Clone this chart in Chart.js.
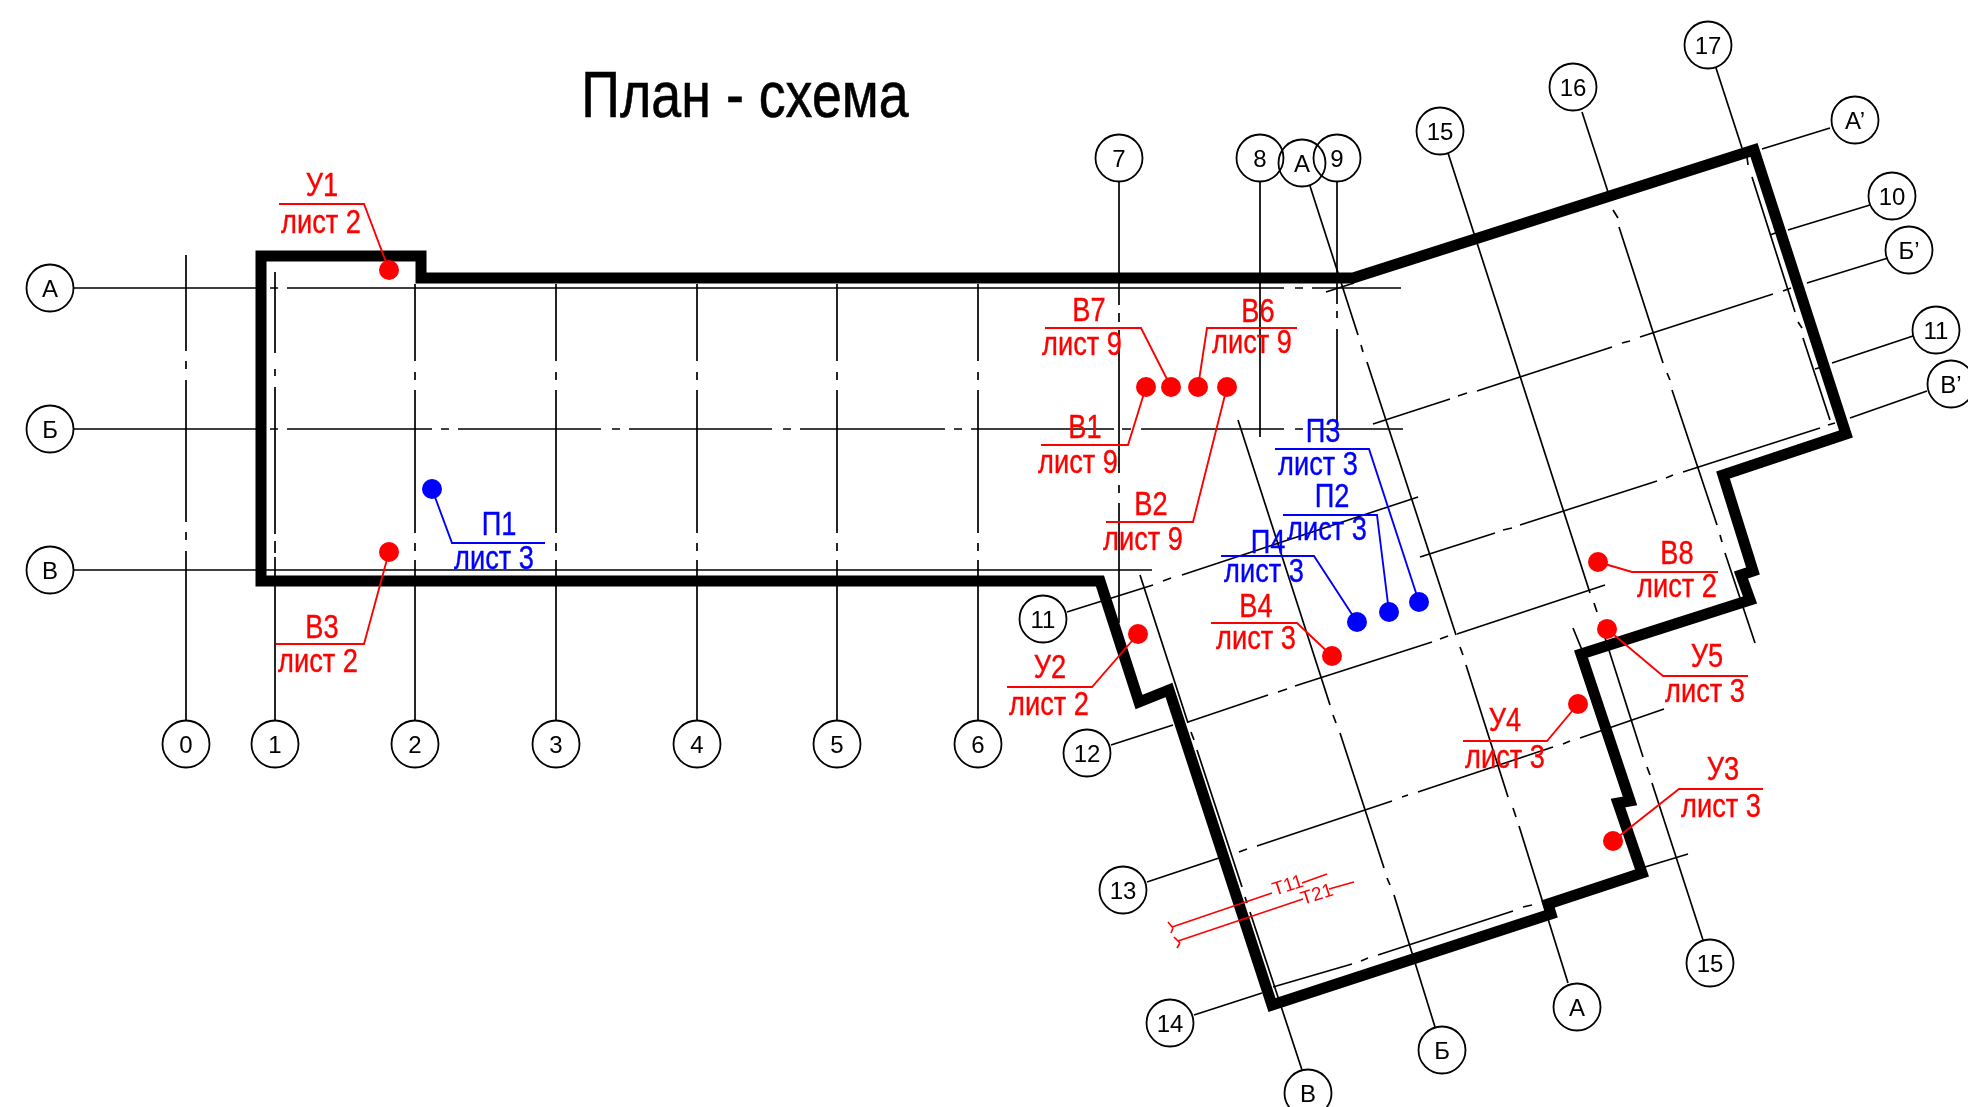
<!DOCTYPE html>
<html>
<head>
<meta charset="utf-8">
<title>План - схема</title>
<script src="https://cdn.jsdelivr.net/npm/chart.js@4"></script>
<style>
  html, body { margin: 0; padding: 0; background: #fff; overflow: hidden; }
  canvas { display: block; }
</style>
</head>
<body>
<canvas id="plan" width="1968" height="1107"></canvas>
<script>
const titleText = "План - схема";

// Outer wall, drawing coordinates
const wallX = [261, 421, 421, 1353, 1754, 1846, 1723, 1753, 1741, 1750, 1581, 1630, 1618, 1642, 1548, 1551, 1272, 1169, 1139, 1100, 261, 261];
const wallY = [256, 256, 278, 278, 150, 434, 475, 571, 575, 600, 654, 801, 803, 873, 904, 914, 1005, 690, 702, 581, 581, 256];

// Grid axes: each entry is one drawn stroke [x1, y1, x2, y2]
const rowA = [[73, 288, 258, 288], [270, 288, 278, 288], [287, 288, 1284, 288], [1295, 288, 1303, 288], [1312, 288, 1401, 288]];
const rowB = [[73, 429, 258, 429], [270, 429, 278, 429], [287, 429, 432, 429], [441, 429, 449, 429], [458, 429, 601, 429], [612, 429, 620, 429], [629, 429, 772, 429], [783, 429, 791, 429], [800, 429, 945, 429], [954, 429, 962, 429], [971, 429, 1114, 429], [1122, 429, 1131, 429], [1141, 429, 1284, 429], [1295, 429, 1303, 429], [1312, 429, 1403, 429]];
const rowV = [[73, 570, 1152, 570]];

const col0 = [[186, 255, 186, 351], [186, 361, 186, 369], [186, 380, 186, 522], [186, 532, 186, 540], [186, 551, 186, 721]];
const col1 = [[275, 272, 275, 353], [275, 369, 275, 376], [275, 387, 275, 534], [275, 541, 275, 553], [275, 557, 275, 721]];
const col2 = [[415, 284, 415, 361], [415, 372, 415, 380], [415, 390, 415, 533], [415, 543, 415, 551], [415, 560, 415, 721]];
const col3 = [[556, 284, 556, 361], [556, 372, 556, 380], [556, 390, 556, 533], [556, 543, 556, 551], [556, 560, 556, 721]];
const col4 = [[697, 284, 697, 361], [697, 372, 697, 380], [697, 390, 697, 533], [697, 543, 697, 551], [697, 560, 697, 721]];
const col5 = [[837, 284, 837, 361], [837, 372, 837, 380], [837, 390, 837, 533], [837, 543, 837, 551], [837, 560, 837, 721]];
const col6 = [[978, 284, 978, 361], [978, 372, 978, 380], [978, 390, 978, 533], [978, 543, 978, 551], [978, 560, 978, 721]];
const col7 = [[1119, 182, 1119, 305], [1119, 313, 1119, 322], [1119, 330, 1119, 473], [1119, 485, 1119, 493], [1119, 503, 1119, 623]];
const col8 = [[1260, 182, 1260, 437]];
const col9 = [[1337, 182, 1337, 304], [1337, 311, 1337, 318], [1337, 329, 1337, 429]];

// Slanted part of the building
const axisA2 = [[1310, 186, 1358, 335], [1361, 345, 1363, 352], [1367, 362, 1456, 635], [1460, 647, 1463, 655], [1466, 665, 1508, 797], [1513, 808, 1516, 817], [1519, 826, 1568, 983]];
const axisB2 = [[1238, 420, 1330, 705], [1333, 715, 1336, 723], [1340, 733, 1384, 868], [1387, 878, 1390, 885], [1394, 895, 1435, 1027]];
const axisV2 = [[1140, 575, 1188, 723], [1191, 732, 1194, 740], [1197, 750, 1242, 887], [1245, 897, 1247, 903], [1250, 912, 1302, 1070]];
const axis15 = [[1448, 153, 1590, 593], [1594, 603, 1597, 612], [1600, 622, 1643, 757], [1647, 767, 1650, 775], [1652, 783, 1703, 940]];
const axis16 = [[1582, 112, 1608, 192], [1613, 210, 1618, 218], [1619, 227, 1663, 363], [1667, 373, 1670, 380], [1672, 390, 1717, 525], [1720, 535, 1722, 542], [1725, 553, 1755, 643]];
const axis17 = [[1716, 68, 1742, 148], [1747, 157, 1748, 165], [1752, 177, 1795, 312], [1798, 322, 1802, 328], [1803, 338, 1830, 420]];
const axisA1 = [[1762, 149, 1830, 128], [1326, 292, 1354, 283]];
const axis10 = [[1770, 235, 1778, 232], [1788, 230, 1870, 205]];
const axisB1 = [[1373, 424, 1450, 399], [1458, 396, 1467, 393], [1477, 391, 1612, 347], [1622, 343, 1630, 341], [1640, 337, 1773, 294], [1783, 291, 1791, 288], [1807, 283, 1888, 258]];
const axis11r = [[1815, 369, 1822, 367], [1832, 363, 1913, 336]];
const axisV1 = [[1420, 557, 1495, 533], [1503, 530, 1512, 528], [1520, 525, 1657, 481], [1666, 478, 1673, 475], [1683, 472, 1820, 428], [1828, 425, 1835, 423], [1850, 418, 1927, 391]];
const axis11 = [[1067, 612, 1153, 585], [1163, 581, 1171, 578], [1182, 575, 1418, 497]];
const axis12 = [[1111, 745, 1173, 725], [1188, 722, 1268, 695], [1278, 692, 1287, 689], [1295, 686, 1432, 642], [1440, 639, 1448, 636], [1457, 634, 1605, 585]];
const axis13 = [[1147, 882, 1228, 855], [1239, 852, 1247, 849], [1257, 846, 1392, 801], [1402, 797, 1408, 795], [1418, 792, 1553, 747], [1563, 744, 1570, 741], [1580, 738, 1664, 709]];
const axis14 = [[1194, 1015, 1262, 993], [1273, 987, 1352, 964], [1361, 961, 1368, 958], [1378, 955, 1513, 911], [1523, 907, 1532, 905], [1645, 867, 1688, 854]];
const stubs = [[1573, 628, 1582, 650]];

// Axis bubbles
const bubbleLabels = ["А", "Б", "В", "0", "1", "2", "3", "4", "5", "6", "7", "8", "А", "9", "15", "16", "17", "А’", "10", "Б’", "11", "В’", "11", "12", "13", "14", "В", "Б", "А", "15"];
const bubbleX = [50, 50, 50, 186, 275, 415, 556, 697, 837, 978, 1119, 1260, 1302, 1337, 1440, 1573, 1708, 1855, 1892, 1909, 1936, 1951, 1043, 1087, 1123, 1170, 1308, 1442, 1577, 1710];
const bubbleY = [288, 429, 570, 744, 744, 744, 744, 744, 744, 744, 158, 158, 163, 158, 131, 87, 45, 120, 196, 250, 330, 384, 619, 753, 890, 1023, 1093, 1050, 1007, 963];

// Section marks with sheet references
const calloutNames = ["У1", "В3", "П1", "В7", "В6", "В1", "В2", "П3", "П2", "П4", "В4", "У2", "В8", "У5", "У4", "У3"];
const calloutSheets = ["лист 2", "лист 2", "лист 3", "лист 9", "лист 9", "лист 9", "лист 9", "лист 3", "лист 3", "лист 3", "лист 3", "лист 2", "лист 2", "лист 3", "лист 3", "лист 3"];
const calloutBlue = ["П1", "П2", "П3", "П4"];
const dotX = [389, 389, 432, 1171, 1198, 1146, 1227, 1419, 1389, 1357, 1332, 1138, 1598, 1607, 1578, 1613];
const dotY = [270, 552, 489, 387, 387, 387, 387, 602, 612, 622, 656, 634, 562, 629, 704, 841];
const elbowX = [364, 364, 452, 1141, 1207, 1128, 1193, 1369, 1377, 1314, 1297, 1092, 1632, 1663, 1547, 1679];
const elbowY = [204, 644, 543, 328, 328, 445, 522, 449, 515, 556, 623, 687, 572, 676, 741, 789];
const shelfEndX = [279, 276, 545, 1045, 1297, 1041, 1106, 1275, 1283, 1221, 1211, 1007, 1718, 1748, 1463, 1763];
const nameX = [322, 322, 499, 1089, 1258, 1085, 1151, 1323, 1332, 1268, 1256, 1050, 1677, 1707, 1505, 1723];
const nameY = [196, 638, 535, 321, 322, 438, 515, 442, 507, 553, 617, 678, 564, 667, 731, 780];
const sheetX = [321, 318, 494, 1082, 1252, 1078, 1143, 1318, 1327, 1264, 1256, 1049, 1677, 1705, 1505, 1721];
const sheetY = [233, 672, 569, 355, 353, 473, 550, 475, 540, 582, 649, 715, 597, 702, 768, 817];

// Pipe runs Т11 / Т21
const pipeT11 = [[1168, 922, 1173, 928], [1173, 928, 1171, 933], [1172, 927, 1272, 893], [1302, 883, 1327, 874]];
const pipeT21 = [[1174, 937, 1180, 943], [1180, 943, 1177, 948], [1178, 941, 1303, 899], [1329, 889, 1354, 882]];
const pipeLabels = ["Т11", "Т21"];
const pipeLabelX = [1288, 1317];
const pipeLabelY = [886, 895];

const thinGroups = [rowA, rowB, rowV, col0, col1, col2, col3, col4, col5, col6, col7, col8, col9,
  axisA2, axisB2, axisV2, axis15, axis16, axis17, axisA1, axis10, axisB1, axis11r, axisV1, axis11, axis12, axis13, axis14, stubs];

function pairs(xs, ys) {
  return xs.map((x, i) => ({ x: x, y: ys[i] }));
}

// NaN between strokes breaks the line
function strokes(list) {
  let pts = [];
  list.forEach(s => {
    pts.push({ x: s[0], y: s[1] }, { x: s[2], y: s[3] }, { x: NaN, y: NaN });
  });
  return pts;
}

function lineSet(data, color, width, order) {
  return {
    data: data,
    showLine: true,
    borderColor: color,
    borderWidth: width,
    pointRadius: 0,
    tension: 0,
    spanGaps: false,
    clip: false,
    order: order
  };
}

let datasets = [];

thinGroups.forEach(g => datasets.push(lineSet(strokes(g), "#000", 1.7, 50)));

// wall
let wallSet = lineSet(pairs(wallX, wallY), "#000", 11, 40);
wallSet.borderJoinStyle = "miter";
wallSet.borderCapStyle = "square";
datasets.push(wallSet);

// bubbles, see-through because А overlaps 8 and 9
datasets.push({
  data: pairs(bubbleX, bubbleY),
  showLine: false,
  clip: false,
  pointRadius: 23.5,
  pointBackgroundColor: "rgba(255,255,255,0)",
  pointBorderColor: "#000",
  pointBorderWidth: 1.8,
  order: 30
});

// callouts
calloutNames.forEach((name, i) => {
  let color = calloutBlue.includes(name) ? "#0000ff" : "#ff0000";
  datasets.push(lineSet([
    { x: dotX[i], y: dotY[i] },
    { x: elbowX[i], y: elbowY[i] },
    { x: shelfEndX[i], y: elbowY[i] }
  ], color, 1.9, 20));
  datasets.push({
    data: [{ x: dotX[i], y: dotY[i] }],
    showLine: false,
    clip: false,
    pointRadius: 10,
    pointBackgroundColor: color,
    pointBorderColor: color,
    pointBorderWidth: 0,
    order: 10
  });
});

datasets.push(lineSet(strokes(pipeT11), "#ff0000", 1.6, 20));
datasets.push(lineSet(strokes(pipeT21), "#ff0000", 1.6, 20));

// Narrow lettering: no narrow font is installed, so squeeze Liberation Sans.
// The squeeze also thins the stems, a light stroke puts the weight back.
function narrowText(ctx, text, x, y, squeeze, weight) {
  ctx.save();
  ctx.translate(x, y);
  ctx.scale(squeeze, 1);
  ctx.fillText(text, 0, 0);
  ctx.strokeStyle = ctx.fillStyle;
  ctx.lineWidth = weight;
  ctx.strokeText(text, 0, 0);
  ctx.restore();
}

// All the lettering goes on top, placed through the scales
const lettering = {
  id: "lettering",
  afterDatasetsDraw(chart) {
    const ctx = chart.ctx;
    const sx = chart.scales.x;
    const sy = chart.scales.y;
    const sans = '"Liberation Sans", sans-serif';

    ctx.save();
    ctx.textAlign = "center";
    ctx.textBaseline = "alphabetic";

    ctx.fillStyle = "#000";
    ctx.font = "64px " + sans;
    narrowText(ctx, titleText, sx.getPixelForValue(745), sy.getPixelForValue(117), 0.84, 0.6);

    ctx.font = "24px " + sans;
    bubbleLabels.forEach((label, i) => {
      ctx.fillText(label, sx.getPixelForValue(bubbleX[i]), sy.getPixelForValue(bubbleY[i] + 9));
    });

    ctx.font = "34px " + sans;
    calloutNames.forEach((name, i) => {
      ctx.fillStyle = calloutBlue.includes(name) ? "#0000ff" : "#ff0000";
      narrowText(ctx, name, sx.getPixelForValue(nameX[i]), sy.getPixelForValue(nameY[i]), 0.8, 0.4);
      narrowText(ctx, calloutSheets[i], sx.getPixelForValue(sheetX[i]), sy.getPixelForValue(sheetY[i]), 0.8, 0.4);
    });

    ctx.fillStyle = "#ff0000";
    ctx.font = "19px " + sans;
    ctx.textBaseline = "middle";
    pipeLabels.forEach((label, i) => {
      ctx.save();
      ctx.translate(sx.getPixelForValue(pipeLabelX[i]), sy.getPixelForValue(pipeLabelY[i]));
      ctx.rotate(-18 * Math.PI / 180);
      ctx.fillText(label, 0, 0);
      ctx.restore();
    });
    ctx.restore();
  }
};

const ctx = document.getElementById("plan").getContext("2d");
const chart = new Chart(ctx, {
  type: "scatter",
  data: { datasets: datasets },
  plugins: [lettering],
  options: {
    responsive: false,
    animation: false,
    devicePixelRatio: 1,
    layout: { padding: 0 },
    plugins: {
      legend: { display: false },
      title: { display: false },
      tooltip: { enabled: false }
    },
    scales: {
      x: { type: "linear", min: 0, max: 1968, display: false },
      y: { type: "linear", min: 0, max: 1107, reverse: true, display: false }
    }
  }
});

// Point radius insets the chart area, so match the scales to it: one unit = one pixel
const area = chart.chartArea;
chart.options.scales.x.min = area.left;
chart.options.scales.x.max = area.right;
chart.options.scales.y.min = area.top;
chart.options.scales.y.max = area.bottom;
chart.update();
</script>
</body>
</html>
